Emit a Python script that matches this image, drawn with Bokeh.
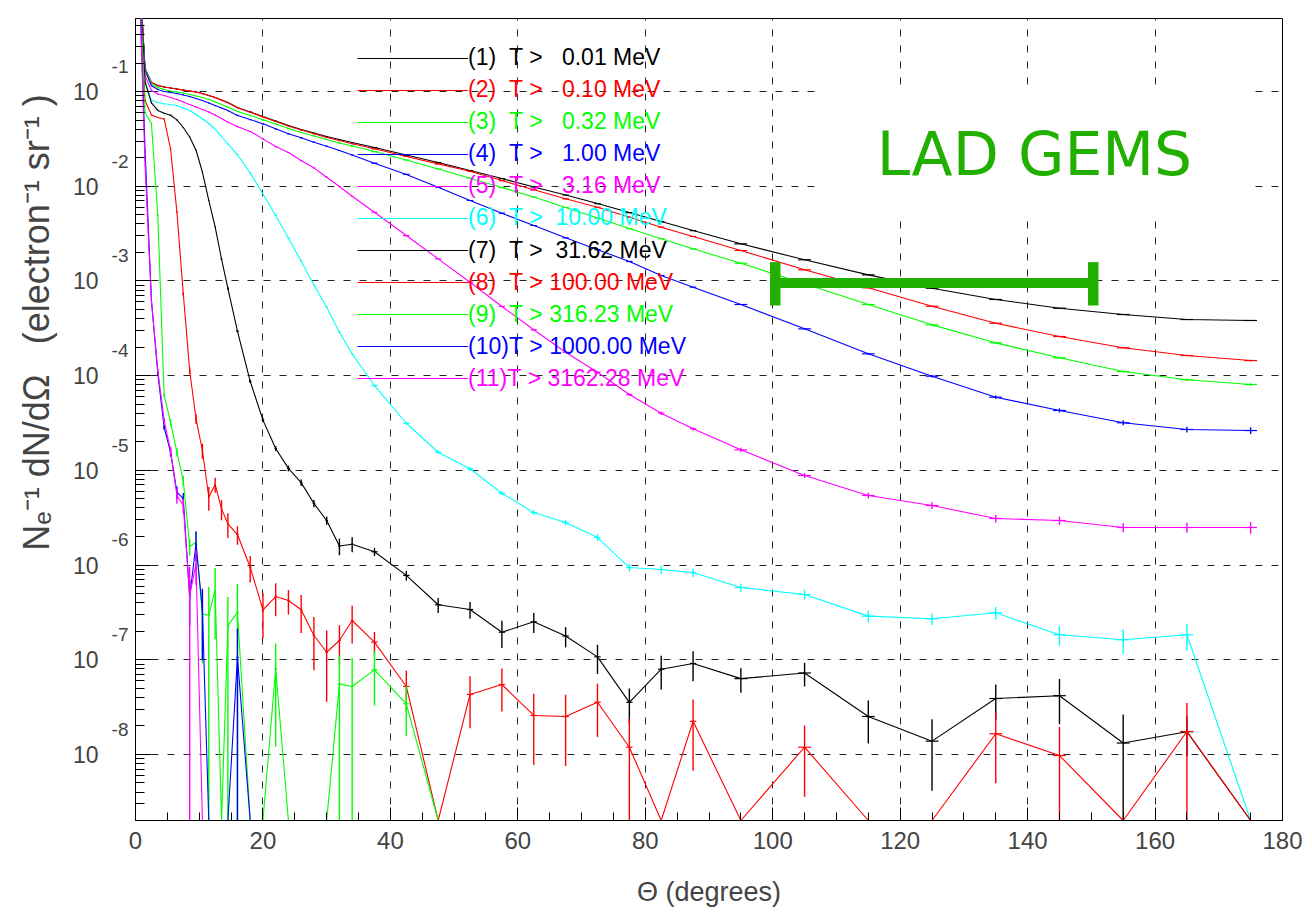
import numpy as np
from bokeh.plotting import figure
from bokeh.models import (Range1d, FixedTicker, Label, BoxAnnotation, Legend,
                          LegendItem, CustomJSTickFormatter, LogAxis)
from bokeh.core.properties import value
from bokeh.embed import file_html
from bokeh.resources import INLINE

# ---------------------------------------------------------------- data
BIN_EDGES = [0, 1, 2, 3, 4, 5, 6, 7, 8, 9, 10, 11, 12, 13, 14, 15,
             17, 19, 21, 23, 25, 27, 29, 31, 33, 35,
             40, 45, 50, 55, 60, 65, 70, 75, 80, 85, 90,
             100, 110, 120, 130, 140, 150, 160, 170, 180]

THRESHOLDS_MEV = [0.01, 0.10, 0.32, 1.00, 3.16, 10.00, 31.62, 100.00,
                  316.23, 1000.00, 3162.28]

# log10 of N_e^-1 dN/dOmega per bin (None = empty bin)
LOG_S1 = [0.40, -0.757, -0.905, -0.937, -0.952, -0.963, -0.974, -0.984, -0.995, -1.005,
          -1.021, -1.042, -1.063, -1.090, -1.116, -1.169, -1.216, -1.264, -1.312, -1.359,
          -1.401, -1.438, -1.475, -1.507, -1.539, -1.591, -1.671, -1.750, -1.834, -1.919,
          -2.008, -2.093, -2.183, -2.278, -2.373, -2.468, -2.608, -2.777, -2.936, -3.077,
          -3.196, -3.288, -3.355, -3.408, -3.418]
LOG_S2 = [0.40, -0.757, -0.905, -0.937, -0.952, -0.963, -0.974, -0.985, -0.996, -1.006,
          -1.022, -1.043, -1.064, -1.091, -1.118, -1.171, -1.219, -1.268, -1.316, -1.364,
          -1.407, -1.446, -1.485, -1.518, -1.551, -1.605, -1.686, -1.764, -1.842, -1.940,
          -2.038, -2.133, -2.222, -2.327, -2.433, -2.531, -2.679, -2.883, -3.073, -3.267,
          -3.447, -3.587, -3.706, -3.788, -3.841]
LOG_S3 = [0.40, -0.760, -0.916, -0.958, -0.979, -0.995, -1.005, -1.016, -1.032, -1.048,
          -1.063, -1.084, -1.111, -1.137, -1.164, -1.211, -1.253, -1.299, -1.343, -1.391,
          -1.433, -1.470, -1.507, -1.544, -1.576, -1.634, -1.723, -1.818, -1.916, -2.014,
          -2.114, -2.225, -2.336, -2.447, -2.555, -2.661, -2.813, -3.031, -3.249, -3.464,
          -3.654, -3.812, -3.957, -4.044, -4.094]
LOG_S4 = [0.40, -0.778, -0.937, -0.979, -1.000, -1.011, -1.021, -1.037, -1.053, -1.074,
          -1.095, -1.121, -1.148, -1.174, -1.201, -1.253, -1.296, -1.341, -1.394, -1.447,
          -1.489, -1.535, -1.578, -1.623, -1.670, -1.757, -1.876, -2.010, -2.151, -2.285,
          -2.415, -2.545, -2.670, -2.795, -2.943, -3.066, -3.249, -3.506, -3.770, -4.006,
          -4.228, -4.368, -4.498, -4.569, -4.580]
LOG_S5 = [0.40, -0.831, -0.989, -1.026, -1.042, -1.063, -1.084, -1.111, -1.137, -1.164,
          -1.190, -1.216, -1.248, -1.285, -1.324, -1.370, -1.422, -1.500, -1.581, -1.644,
          -1.729, -1.806, -1.905, -2.003, -2.106, -2.275, -2.521, -2.767, -3.014, -3.270,
          -3.516, -3.753, -3.964, -4.200, -4.397, -4.562, -4.784, -5.055, -5.266, -5.372,
          -5.509, -5.530, -5.604, -5.604, -5.604]
LOG_S6 = [0.40, -0.884, -1.095, -1.116, -1.130, -1.137, -1.148, -1.174, -1.201, -1.243,
          -1.288, -1.338, -1.401, -1.475, -1.554, -1.668, -1.861, -2.082, -2.309, -2.547,
          -2.792, -3.041, -3.278, -3.542, -3.770, -4.105, -4.503, -4.809, -4.984, -5.242,
          -5.446, -5.551, -5.710, -6.027, -6.048, -6.080, -6.238, -6.311, -6.540, -6.568,
          -6.505, -6.737, -6.790, -6.737, None]
LOG_S7 = [0.40, -0.90, -1.12, -1.20, -1.23, -1.25, -1.30, -1.38, -1.48, -1.62,
          -1.85, -2.15, -2.43, -2.77, -3.08, -3.53, -4.06, -4.47, -4.77, -4.98,
          -5.13, -5.35, -5.53, -5.80, -5.78, -5.86, -6.11, -6.42, -6.47, -6.71,
          -6.60, -6.75, -6.97, -7.45, -7.10, -7.04, -7.20, -7.14, -7.60, -7.86,
          -7.41, -7.38, -7.88, -7.76, None]
LOG_S8 = [0.40, -1.095, -1.248, -1.275, -1.290, -1.605, -2.275, -3.136, -3.946, -4.456,
          -4.791, -5.284, -5.150, -5.407, -5.565, -5.678, -6.023, -6.473, -6.333, -6.375,
          -6.473, -6.744, -6.921, -6.797, -6.586, -6.815, -7.283, None, -7.367, -7.262,
          -7.589, -7.600, -7.449, -7.924, None, -7.650, None, -7.924, None, None,
          -7.782, -8.012, None, -7.758, None]
LOG_S9 = [0.40, -1.222, -1.338, -2.309, -4.210, -4.492, -4.809, -5.108, -5.805, -5.759,
          -6.515, -6.533, -6.262, None, -6.640, -6.498, None, None, -7.096, None,
          None, None, None, -7.255, -7.283, -7.107, -7.466, None, None, None,
          None, None, None, None, None, None, None, None, None, None,
          None, None, None, None, None]
LOG_S10 = [0.40, -1.623, -3.207, -3.978, -4.548, -4.809, -5.231, -5.300, -6.340, -5.776,
           -6.480, None, None, None, None, -6.974, None, None, None, None,
           None, None, None, None, None, None, None, None, None, None,
           None, None, None, None, None, None, None, None, None, None,
           None, None, None, None, None]
LOG_S11 = [0.40, -1.781, -3.207, -3.946, -4.474, -4.791, -5.266, -5.372, -6.320, -5.990,
           None, None, None, None, None, None, None, None, None, None,
           None, None, None, None, None, None, None, None, None, None,
           None, None, None, None, None, None, None, None, None, None,
           None, None, None, None, None]

# relative statistical error per bin
ERR_S1 = [0] * 36 + [0.005, 0.006, 0.007, 0.008, 0.009, 0.010, 0.011, 0.012, 0.012]
ERR_S2 = [0] * 36 + [0.008, 0.009, 0.010, 0.012, 0.014, 0.016, 0.018, 0.020, 0.020]
ERR_S3 = [0] * 36 + [0.010, 0.012, 0.014, 0.016, 0.019, 0.022, 0.025, 0.028, 0.030]
ERR_S4 = [0] * 36 + [0.015, 0.020, 0.025, 0.030, 0.040, 0.050, 0.060, 0.070, 0.080]
ERR_S5 = [0] * 30 + [0.02, 0.02, 0.03, 0.03, 0.04, 0.04, 0.05, 0.06, 0.07, 0.08,
                     0.09, 0.10, 0.11, 0.12, 0.14]
ERR_S6 = [0] * 25 + [0.02, 0.03, 0.04, 0.05, 0.05, 0.06, 0.07, 0.08, 0.09, 0.10,
                     0.10, 0.10, 0.12, 0.14, 0.14, 0.15, 0.23, 0.29, 0.32, 0]
ERR_S7 = [0, 0, 0, 0, 0, 0, 0, 0, 0, 0, 0, 0, 0, 0.02, 0.03,
          0.03, 0.04, 0.05, 0.06, 0.07, 0.08, 0.09, 0.10, 0.20, 0.18,
          0.10, 0.12, 0.18, 0.20, 0.32, 0.24, 0.24, 0.34, 0.40, 0.39, 0.35,
          0.29, 0.28, 0.48, 0.70, 0.41, 0.50, 1.00, 0.45, 0]
ERR_S8 = [0, 0, 0, 0, 0, 0.01, 0.02, 0.04, 0.08, 0.12, 0.18, 0.28, 0.18, 0.24, 0.29,
          0.22, 0.31, 0.50, 0.38, 0.29, 0.43, 0.57, 0.70, 0.45, 0.43,
          0.28, 0.47, 0, 0.56, 0.48, 0.70, 0.70, 0.57, 1.00, 0, 0.70,
          0, 0.70, 0, 0, 0.70, 1.00, 0, 1.00, 0]
ERR_S9 = [0, 0, 0, 0.02, 0.05, 0.08, 0.10, 0.12, 0.20, 0.30, 0.70, 1.00, 0.70, 0, 1.00,
          1.00, 0, 0, 0.85, 0, 0, 0, 0, 1.00, 1.00,
          0.58, 0.54] + [0] * 18
ERR_S10 = [0, 0, 0, 0.03, 0.06, 0.10, 0.15, 0.15, 0.50, 0.35, 0.70, 0, 0, 0, 0,
           1.00] + [0] * 29
ERR_S11 = [0, 0, 0, 0.03, 0.06, 0.10, 0.18, 0.18, 1.00, 0.40] + [0] * 35

SERIES = [LOG_S1, LOG_S2, LOG_S3, LOG_S4, LOG_S5, LOG_S6, LOG_S7, LOG_S8,
          LOG_S9, LOG_S10, LOG_S11]
ERRORS = [ERR_S1, ERR_S2, ERR_S3, ERR_S4, ERR_S5, ERR_S6, ERR_S7, ERR_S8,
          ERR_S9, ERR_S10, ERR_S11]
COLORS = ["#000000", "#ff0000", "#00ff00", "#0000ff", "#ff00ff", "#00ffff",
          "#000000", "#ff0000", "#00ff00", "#0000ff", "#ff00ff"]

GEMS_THETA = [100.4, 150.3]      # LAD GEMS angular range (deg)
GEMS_LEVEL = 9.5e-4
GEMS_CAP = [5.5e-4, 1.58e-3]

X_TICKS = [0, 20, 40, 60, 80, 100, 120, 140, 160, 180]
Y_DECADES = [-8, -7, -6, -5, -4, -3, -2, -1]

X_TITLE = "\u0398 (degrees)"
Y_TITLE = ("N\u2091\u207b\u00b9\u00a0dN/d\u03a9\u00a0\u00a0\u00a0"
           "(electron\u207b\u00b9\u00a0sr\u207b\u00b9\u00a0)")

# ---------------------------------------------------------------- layout
Y_MIN, Y_MAX = 10 ** -8.698, 10 ** -0.229
FONT = "Liberation Sans"
W, H = 1312, 915
FL, FR, FT, FB = 135, 1282, 18, 820       # frame edges on the page


def px_x(X):
    return (X - FL) * 180.0 / (FR - FL)


def px_y(Y):
    return 10 ** (-0.229 - (Y - FT) * (8.698 - 0.229) / (FB - FT))


p = figure(width=W, height=H, y_axis_type="log",
           x_range=Range1d(0, 180), y_range=Range1d(Y_MIN, Y_MAX),
           output_backend="svg", toolbar_location=None,
           min_border_left=FL, min_border_right=W - FR, min_border_top=FT,
           min_border_bottom=H - FB)
p.background_fill_color = "white"
p.border_fill_color = "white"
p.outline_line_color = "black"
p.outline_line_width = 1
p.outline_line_alpha = 1

# x axis
xa = p.xaxis[0]
xa.ticker = FixedTicker(ticks=X_TICKS, minor_ticks=list(range(0, 181, 5)))
xa.major_tick_in, xa.major_tick_out = 13, 0
xa.minor_tick_in, xa.minor_tick_out = 8, 0
xa.major_label_text_font = FONT
xa.major_label_text_font_size = "24px"
xa.major_label_standoff = 11
xa.axis_line_color = "black"
xa.major_tick_line_color = "black"
xa.minor_tick_line_color = "black"
xa.axis_label = X_TITLE
xa.axis_label_text_font = FONT
xa.axis_label_text_font_size = "27px"
xa.axis_label_text_font_style = "normal"
xa.axis_label_standoff = 25

# y axis: ticks + exponents (next to frame), then mantissa "10", then title
decade_vals = [10.0 ** d for d in Y_DECADES]
minors = [m * 10.0 ** d for d in range(-9, 0) for m in range(2, 10)]
minors = [v for v in minors if Y_MIN <= v <= Y_MAX]
ya = p.yaxis[0]
ya.ticker = FixedTicker(ticks=decade_vals, minor_ticks=minors)
ya.formatter = CustomJSTickFormatter(
    code="return Math.round(Math.log10(tick)) + '\\n\\u00a0\\n\\u00a0';")
ya.major_tick_in, ya.major_tick_out = 16, 0
ya.minor_tick_in, ya.minor_tick_out = 9, 0
ya.major_label_text_font = FONT
ya.major_label_text_font_size = "19px"
ya.major_label_standoff = 7
ya.axis_line_color = "black"
ya.major_tick_line_color = "black"
ya.minor_tick_line_color = "black"

ya10 = LogAxis(ticker=FixedTicker(ticks=decade_vals, minor_ticks=[]),
               formatter=CustomJSTickFormatter(code="return '10';"),
               major_tick_in=0, major_tick_out=0, minor_tick_in=0, minor_tick_out=0,
               axis_line_color=None, major_label_text_font=FONT,
               major_label_text_font_size="23px", major_label_standoff=10)
p.add_layout(ya10, "left")

yat = LogAxis(ticker=FixedTicker(ticks=[px_y(322)], minor_ticks=[]),
              formatter=CustomJSTickFormatter(code="return %s;" % (
                  '"' + Y_TITLE.encode("unicode_escape").decode("ascii") + '"')),
              major_tick_in=0, major_tick_out=0, minor_tick_in=0, minor_tick_out=0,
              axis_line_color=None, major_label_text_font=FONT,
              major_label_text_font_size="36px", major_label_standoff=13,
              major_label_orientation="vertical")
p.add_layout(yat, "left")

for g in (p.xgrid[0], p.ygrid[0]):
    g.grid_line_color = "black"
    g.grid_line_alpha = 0.85
    g.grid_line_dash = "7 9"
    g.grid_line_width = 1

# ---------------------------------------------------------------- series
edges = np.array(BIN_EDGES, dtype=float)
centers = 0.5 * (edges[:-1] + edges[1:])
widths = edges[1:] - edges[:-1]

line_renderers = []
for logs, errs, col in zip(SERIES, ERRORS, COLORS):
    vals = np.array([10.0 ** L if L is not None else 0.0 for L in logs])
    ys = np.where(vals > 0, vals, Y_MIN)
    r = p.line(centers, ys, line_color=col, line_width=1.1)
    line_renderers.append(r)
    nz = vals > 0
    e = np.array(errs, dtype=float)
    has = nz & (e > 0)
    lo = np.maximum(vals[has] * (1 - e[has]), Y_MIN)
    hi = vals[has] * (1 + e[has])
    p.segment(x0=centers[has], x1=centers[has], y0=lo, y1=hi,
              line_color=col, line_width=1.4)
    p.segment(x0=centers[nz] - 0.1 * widths[nz], x1=centers[nz] + 0.1 * widths[nz],
              y0=vals[nz], y1=vals[nz], line_color=col, line_width=1.2)

# ---------------------------------------------------------------- legend
NB = "\u00a0"
for i, (thr, col, rend) in enumerate(zip(THRESHOLDS_MEV, COLORS, line_renderers), start=1):
    num = f"{thr:.2f}"
    lab = (f"({i})" + (NB * 2 if i < 10 else "") + "T" + NB + ">" +
           NB * max(1, 7 - len(num)) + num + NB + "MeV")
    yc = 57.7 + 32.05 * (i - 1)
    leg = Legend(items=[LegendItem(label=value(lab), renderers=[rend])],
                 location=(357 - FL, FB - yc - 15),
                 glyph_width=111, glyph_height=30, label_height=30,
                 label_standoff=0, padding=0, margin=0, spacing=0,
                 background_fill_alpha=0, border_line_alpha=0,
                 label_text_font=FONT, label_text_font_size="23px",
                 label_text_color=col)
    p.add_layout(leg)

# ---------------------------------------------------------------- LAD GEMS
GEMS_COLOR = "#22b000"
p.add_layout(BoxAnnotation(left=px_x(821), right=px_x(1247), top=px_y(85),
                           bottom=px_y(216), fill_color="white", fill_alpha=1,
                           line_alpha=0))
p.add_layout(Label(x=px_x(1034), y=px_y(153), text="LAD GEMS",
                   text_font="DejaVu Sans", text_font_size="60px",
                   text_color=GEMS_COLOR, text_align="center",
                   text_baseline="middle"))
p.segment(x0=[GEMS_THETA[0]], x1=[GEMS_THETA[1]], y0=[GEMS_LEVEL], y1=[GEMS_LEVEL],
          line_color=GEMS_COLOR, line_width=10, line_cap="butt")
p.segment(x0=GEMS_THETA, x1=GEMS_THETA, y0=[GEMS_CAP[0]] * 2, y1=[GEMS_CAP[1]] * 2,
          line_color=GEMS_COLOR, line_width=10.5, line_cap="butt")

open("out.html", "w").write(file_html(p, INLINE))
